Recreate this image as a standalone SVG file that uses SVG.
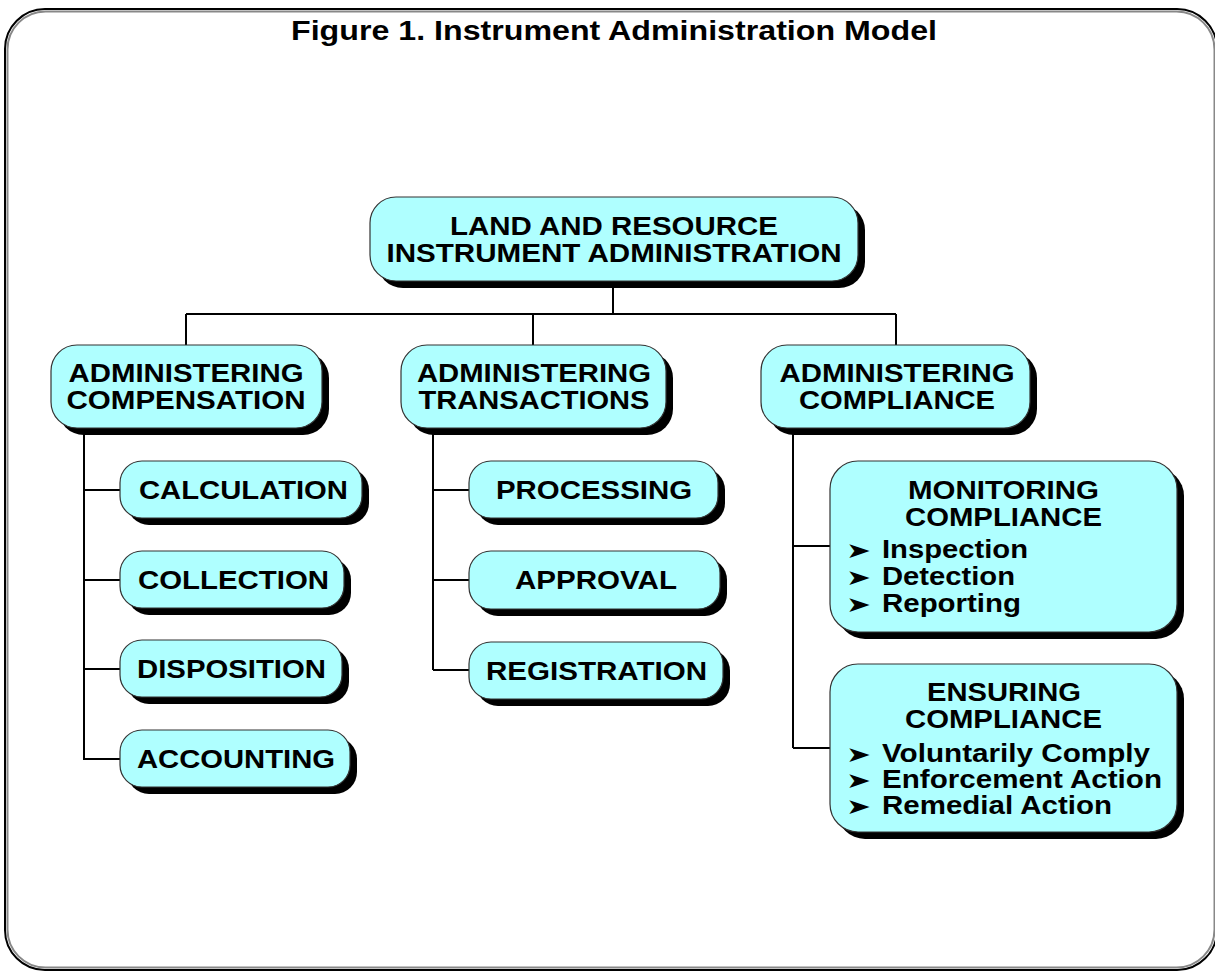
<svg xmlns="http://www.w3.org/2000/svg" width="1215" height="973" viewBox="0 0 1215 973">
<style>
.bx{fill:#AFFFFF;stroke:#333;stroke-width:1.2}
.sh{fill:#000}
.t{font-family:"Liberation Sans",Arial,sans-serif;font-weight:bold;font-size:25px;fill:#000;text-anchor:middle}
.b{font-family:"Liberation Sans",Arial,sans-serif;font-weight:bold;font-size:25px;fill:#000}
.ar{font-family:"DejaVu Sans",sans-serif;font-size:22px;fill:#000}
.ln{stroke:#000;stroke-width:2;fill:none}
.title{font-family:"Liberation Sans",Arial,sans-serif;font-weight:bold;font-size:27px;fill:#000;text-anchor:middle}
</style>
<rect width="1215" height="973" fill="#fff"/>
<g id="frame">
<rect x="5" y="9" width="1212" height="961" rx="40" fill="none" stroke="#000" stroke-width="2"/>
<rect x="7.5" y="11.5" width="1207" height="956" rx="38" fill="none" stroke="#888" stroke-width="2"/>
</g>
<text class="title" x="614" y="40" textLength="646" lengthAdjust="spacingAndGlyphs">Figure 1.  Instrument Administration Model</text>
<g id="connectors">
<path class="ln" d="M613 281V314M186 314H896M186 314V346M533 314V346M896 314V346"/>
<path class="ln" d="M84 428V760M84 490H121M84 580H121M84 669H121M84 759H121"/>
<path class="ln" d="M433 428V670M433 490H470M433 580H470M433 670H470"/>
<path class="ln" d="M793 428V748M793 546H831M793 748H831"/>
</g>
<g id="n-root">
<rect class="sh" x="377" y="204" width="488" height="84" rx="26"/>
<rect class="bx" x="370" y="197" width="488" height="84" rx="26"/>
<text class="t" x="614" y="235" textLength="328" lengthAdjust="spacingAndGlyphs">LAND AND RESOURCE</text>
<text class="t" x="614" y="262" textLength="455" lengthAdjust="spacingAndGlyphs">INSTRUMENT ADMINISTRATION</text>
</g>
<g id="n-comp">
<rect class="sh" x="58" y="352" width="271" height="83" rx="26"/>
<rect class="bx" x="51" y="345" width="271" height="83" rx="26"/>
<text class="t" x="186" y="382" textLength="235" lengthAdjust="spacingAndGlyphs">ADMINISTERING</text>
<text class="t" x="186" y="409" textLength="239" lengthAdjust="spacingAndGlyphs">COMPENSATION</text>
</g>
<g id="n-trans">
<rect class="sh" x="408" y="352" width="265" height="83" rx="26"/>
<rect class="bx" x="401" y="345" width="265" height="83" rx="26"/>
<text class="t" x="534" y="382" textLength="234" lengthAdjust="spacingAndGlyphs">ADMINISTERING</text>
<text class="t" x="534" y="409" textLength="231" lengthAdjust="spacingAndGlyphs">TRANSACTIONS</text>
</g>
<g id="n-compl">
<rect class="sh" x="768" y="352" width="269" height="83" rx="26"/>
<rect class="bx" x="761" y="345" width="269" height="83" rx="26"/>
<text class="t" x="897" y="382" textLength="235" lengthAdjust="spacingAndGlyphs">ADMINISTERING</text>
<text class="t" x="897" y="409" textLength="196" lengthAdjust="spacingAndGlyphs">COMPLIANCE</text>
</g>
<g id="n-calc">
<rect class="sh" x="127" y="468" width="242" height="57" rx="22"/>
<rect class="bx" x="120" y="461" width="242" height="57" rx="22"/>
<text class="t" x="243.5" y="499" textLength="209" lengthAdjust="spacingAndGlyphs">CALCULATION</text>
</g>
<g id="n-coll">
<rect class="sh" x="127" y="558" width="224" height="57" rx="22"/>
<rect class="bx" x="120" y="551" width="224" height="57" rx="22"/>
<text class="t" x="233.5" y="589" textLength="191" lengthAdjust="spacingAndGlyphs">COLLECTION</text>
</g>
<g id="n-disp">
<rect class="sh" x="127" y="647" width="222" height="57" rx="22"/>
<rect class="bx" x="120" y="640" width="222" height="57" rx="22"/>
<text class="t" x="231.5" y="678" textLength="189" lengthAdjust="spacingAndGlyphs">DISPOSITION</text>
</g>
<g id="n-acct">
<rect class="sh" x="127" y="737" width="230" height="57" rx="22"/>
<rect class="bx" x="120" y="730" width="230" height="57" rx="22"/>
<text class="t" x="236" y="768" textLength="198" lengthAdjust="spacingAndGlyphs">ACCOUNTING</text>
</g>
<g id="n-proc">
<rect class="sh" x="476" y="468" width="249" height="57" rx="22"/>
<rect class="bx" x="469" y="461" width="249" height="57" rx="22"/>
<text class="t" x="594" y="499" textLength="196" lengthAdjust="spacingAndGlyphs">PROCESSING</text>
</g>
<g id="n-appr">
<rect class="sh" x="476" y="558" width="251" height="58" rx="22"/>
<rect class="bx" x="469" y="551" width="251" height="58" rx="22"/>
<text class="t" x="596" y="589" textLength="162" lengthAdjust="spacingAndGlyphs">APPROVAL</text>
</g>
<g id="n-reg">
<rect class="sh" x="476" y="649" width="254" height="57" rx="22"/>
<rect class="bx" x="469" y="642" width="254" height="57" rx="22"/>
<text class="t" x="596.5" y="680" textLength="221" lengthAdjust="spacingAndGlyphs">REGISTRATION</text>
</g>
<g id="n-mon">
<rect class="sh" x="837" y="468" width="347" height="171" rx="28"/>
<rect class="bx" x="830" y="461" width="347" height="171" rx="28"/>
<text class="t" x="1003.5" y="499" textLength="191" lengthAdjust="spacingAndGlyphs">MONITORING</text>
<text class="t" x="1003.5" y="526" textLength="197" lengthAdjust="spacingAndGlyphs">COMPLIANCE</text>
<text class="ar" x="846" y="558" textLength="25" lengthAdjust="spacingAndGlyphs">➤</text>
<text class="b" x="882" y="558" textLength="146" lengthAdjust="spacingAndGlyphs">Inspection</text>
<text class="ar" x="846" y="585" textLength="25" lengthAdjust="spacingAndGlyphs">➤</text>
<text class="b" x="882" y="585" textLength="133" lengthAdjust="spacingAndGlyphs">Detection</text>
<text class="ar" x="846" y="612" textLength="25" lengthAdjust="spacingAndGlyphs">➤</text>
<text class="b" x="882" y="612" textLength="139" lengthAdjust="spacingAndGlyphs">Reporting</text>
</g>
<g id="n-ens">
<rect class="sh" x="837" y="671" width="347" height="168" rx="28"/>
<rect class="bx" x="830" y="664" width="347" height="168" rx="28"/>
<text class="t" x="1004" y="701" textLength="154" lengthAdjust="spacingAndGlyphs">ENSURING</text>
<text class="t" x="1003.5" y="728" textLength="197" lengthAdjust="spacingAndGlyphs">COMPLIANCE</text>
<text class="ar" x="846" y="762" textLength="25" lengthAdjust="spacingAndGlyphs">➤</text>
<text class="b" x="882" y="762" textLength="268" lengthAdjust="spacingAndGlyphs">Voluntarily Comply</text>
<text class="ar" x="846" y="788" textLength="25" lengthAdjust="spacingAndGlyphs">➤</text>
<text class="b" x="882" y="788" textLength="280" lengthAdjust="spacingAndGlyphs">Enforcement Action</text>
<text class="ar" x="846" y="814" textLength="25" lengthAdjust="spacingAndGlyphs">➤</text>
<text class="b" x="882" y="814" textLength="230" lengthAdjust="spacingAndGlyphs">Remedial Action</text>
</g>
</svg>
